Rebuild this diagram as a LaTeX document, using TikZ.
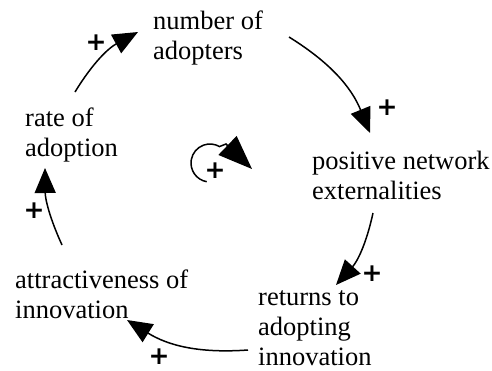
\documentclass[tikz,border=0pt]{standalone}
\usepackage{fontspec}
\setmainfont{Liberation Serif}
\newfontfamily\varfont{Liberation Serif}
\newfontfamily\signfont{DejaVu Sans}
\usetikzlibrary{arrows.meta}
\begin{document}
\begin{tikzpicture}[x=1pt,y=-1pt,
  var/.style={anchor=base west, inner sep=0pt, font=\varfont\fontsize{26.5}{30}\selectfont},
  link/.style={line width=1.5pt, -{Triangle[length=25pt,width=21pt]}},
  polarity/.style={inner sep=0pt, font=\signfont\bfseries\fontsize{25}{25}\selectfont},
]
\useasboundingbox (0,0) rectangle (492,370);

% variables of the loop
\node[var] (number) at (153,29)  {\vtop{\hbox{number of}\hbox{adopters}}};
\node[var] (rate)   at (25,126)  {\vtop{\hbox{rate of}\hbox{adoption}}};
\node[var] (pos)    at (312,169) {\vtop{\hbox{positive network}\hbox{externalities}}};
\node[var] (ret)    at (258,305) {\vtop{\hbox{returns to}\hbox{adopting}\hbox{innovation}}};
\node[var] (attr)   at (15,288)  {\vtop{\hbox{attractiveness of}\hbox{innovation}}};

% causal links
\draw[link] ([shift={(50,-34)}]rate.base west)   to[bend left=15] ([shift={(-15,3)}]number.base west);
\draw[link] ([shift={(136,8)}]number.base west)  to[bend left=18] ([shift={(58,-36)}]pos.base west);
\draw[link] ([shift={(61,44)}]pos.base west)     to[bend left=15] ([shift={(78,-20)}]ret.base west);
\draw[link] ([shift={(-10,45)}]ret.base west)    to[bend left=18] ([shift={(112,32)}]attr.base west);
\draw[link] ([shift={(47,-43)}]attr.base west)   to[bend left=12] ([shift={(20,42)}]rate.base west);

% link polarities
\node[polarity] (p1) at (96,43)   {+};
\node[polarity] (p2) at (387,108) {+};
\node[polarity] (p3) at (372,274) {+};
\node[polarity] (p4) at (159,357) {+};
\node[polarity] (p5) at (34,211)  {+};

% reinforcing loop marker
\coordinate (loopc) at (210,163);
\draw[line width=1.5pt, -{Triangle[length=34pt,width=26pt]}]
  ([shift={(100:19)}]loopc) arc[start angle=100, end angle=300, radius=19]
  -- (226,144) -- (252,169);
\node[polarity] (p6) at (215,171) {+};
\end{tikzpicture}
\end{document}
